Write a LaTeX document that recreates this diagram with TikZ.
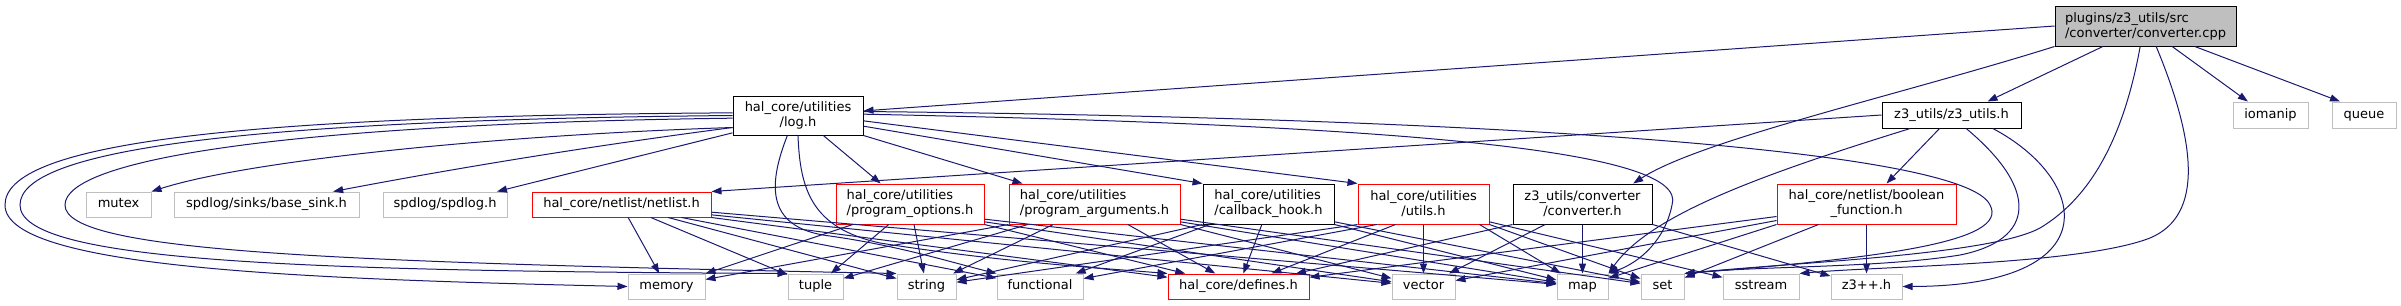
\documentclass[tikz,border=0pt]{standalone}
\usepackage{fontspec}
\setmainfont{DejaVu Sans}
\usetikzlibrary{arrows.meta}
\definecolor{edgeblue}{HTML}{191970}
\definecolor{docred}{HTML}{FF0000}
\definecolor{sysgrey}{HTML}{BFBFBF}
\begin{document}
\begin{tikzpicture}[
    x=0.75pt, y=-0.75pt,
    font=\fontsize{9.75}{11.25}\selectfont,
    % Cajas de los ficheros
    box/.style={rectangle, line width=0.75pt, inner sep=0pt},
    single/.style={minimum height=18.75pt, text height=7.4pt, text depth=2.3pt},
    double/.style={minimum height=30pt},
    sysh/.style={box, single, draw=sysgrey},
    redh/.style={box, draw=docred},
    blkh/.style={box, draw=black},
    % Las dependencias llevan flecha
    edge/.style={draw=edgeblue, line width=0.75pt, -{Triangle[length=7.5pt, width=5.3pt]}}
]
\useasboundingbox (0,0) rectangle (2401,305);

% --- Fichero raiz ---
\node[blkh, double, fill=sysgrey, minimum width=135.75pt, align=left] (root) at (2145.5,26) {plugins/z3\_utils/src\\/converter/converter.cpp};

% --- Segunda fila ---
\node[blkh, double, minimum width=97.5pt, minimum height=29.25pt, align=center] (logh) at (798,115.5) {hal\_core/utilities\\/log.h};
\node[blkh, single, minimum width=104.25pt, minimum height=19.5pt] (zthree) at (1951.5,115) {z3\_utils/z3\_utils.h};
\node[sysh, minimum width=56.25pt, minimum height=19.5pt] (iomaniph) at (2270.5,115) {iomanip};
\node[sysh, minimum width=48pt, minimum height=19.5pt] (queueh) at (2364,115) {queue};

% --- Tercera fila ---
\node[sysh, minimum width=48.75pt] (mutexh) at (118.5,204.5) {mutex};
\node[sysh, minimum width=138.75pt] (basesink) at (266.5,204.5) {spdlog/sinks/base\_sink.h};
\node[sysh, minimum width=93pt] (spdlogh) at (445,204.5) {spdlog/spdlog.h};
\node[redh, single, minimum width=134.25pt] (netlist) at (621.5,204.5) {hal\_core/netlist/netlist.h};
\node[redh, double, minimum width=111pt, align=left] (progopt) at (910,204) {hal\_core/utilities\\/program\_options.h};
\node[redh, double, minimum width=128.25pt, align=left] (progarg) at (1094.5,204) {hal\_core/utilities\\/program\_arguments.h};
\node[blkh, double, minimum width=98.25pt, align=left] (cbhook) at (1268.5,204) {hal\_core/utilities\\/callback\_hook.h};
\node[redh, double, minimum width=98.25pt, align=center] (utilsh) at (1423.5,204) {hal\_core/utilities\\/utils.h};
\node[blkh, double, minimum width=104.25pt, align=center] (convh) at (1582.5,204) {z3\_utils/converter\\/converter.h};
\node[redh, double, minimum width=134.25pt, align=center] (boolfn) at (1866.5,204) {hal\_core/netlist/boolean\\\_function.h};

% --- Cabeceras de la fila inferior ---
\node[sysh, minimum width=57.75pt] (memoryh) at (666.5,286.5) {memory};
\node[sysh, minimum width=41.25pt] (tupleh) at (815.5,286.5) {tuple};
\node[sysh, minimum width=44.25pt] (stringh) at (926.5,286.5) {string};
\node[sysh, minimum width=64.5pt] (functionalh) at (1040,286.5) {functional};
\node[redh, single, minimum width=105.75pt] (defines) at (1238.5,286.5) {hal\_core/defines.h};
\node[sysh, minimum width=47.25pt] (vectorh) at (1423.5,286.5) {vector};
\node[sysh, minimum width=38.25pt] (maph) at (1582.5,286.5) {map};
\node[sysh, minimum width=32.25pt] (seth) at (1662.5,286.5) {set};
\node[sysh, minimum width=57pt] (sstreamh) at (1761,286.5) {sstream};
\node[sysh, minimum width=53.25pt] (zpph) at (1866.5,286.5) {z3++.h};

% --- Desde converter.cpp ---
\draw[edge] (root.west) -- (logh);
\draw[edge] (root.south west) .. controls (1900,95) and (1700,140) .. ([xshift=38pt]convh.north);
\draw[edge] ([xshift=-32pt]root.south) -- ([xshift=27pt]zthree.north);
\draw[edge] ([xshift=20pt]root.south) -- ([xshift=-17pt]iomaniph.north);
\draw[edge] ([xshift=37pt]root.south) -- ([xshift=-18pt]queueh.north);
\draw[edge] ([xshift=-4pt]root.south) .. controls (2125,130) and (2095,195) .. (2040,228) .. controls (1990,255) and (1800,262) .. (seth.north east);
\draw[edge] ([xshift=8pt]root.south) .. controls (2195,140) and (2205,215) .. (2150,238) .. controls (2080,265) and (1880,266) .. (sstreamh.north east);

% --- Desde z3_utils.h ---
\draw[edge] (zthree.west) -- (netlist.north east);
\draw[edge] ([xshift=-31pt]zthree.south) .. controls (1760,175) and (1650,215) .. (maph.north east);
\draw[edge] ([xshift=-9pt]zthree.south) -- ([xshift=15pt]boolfn.north);
\draw[edge] ([xshift=11pt]zthree.south) .. controls (2040,190) and (2035,240) .. (1960,255) .. controls (1880,268) and (1760,266) .. (seth.north east);
\draw[edge] ([xshift=31pt]zthree.south) .. controls (2090,180) and (2110,286) .. (zpph.east);

% --- Desde log.h ---
\draw[edge] ([yshift=-9pt]logh.west) .. controls (500,135) and (250,160) .. (mutexh.north east);
\draw[edge] ([yshift=-9pt]logh.west) .. controls (560,150) and (420,175) .. ([xshift=50pt]basesink.north);
\draw[edge] ([yshift=-13pt]logh.west) -- ([xshift=39pt]spdlogh.north);
\draw[edge] ([yshift=2pt]logh.west) .. controls (220,116) and (5,145) .. (5,205) .. controls (5,268) and (300,279) .. (memoryh.west);
\draw[edge] ([yshift=0pt]logh.west) .. controls (240,120) and (20,150) .. (20,205) .. controls (20,262) and (300,271) .. (tupleh.north west);
\draw[edge] ([yshift=-2pt]logh.west) .. controls (280,124) and (65,160) .. (65,205) .. controls (65,252) and (330,262) .. (stringh.north west);
\draw[edge] ([xshift=19pt]logh.south) -- ([xshift=-22pt]progopt.north);
\draw[edge] (logh.south east) -- ([xshift=-54pt]progarg.north);
\draw[edge] ([yshift=-8pt]logh.east) -- (cbhook.north west);
\draw[edge] ([yshift=-4pt]logh.east) -- (utilsh.north west);
\draw[edge] ([yshift=1pt]logh.east) .. controls (1400,125) and (1690,150) .. (1672,205) .. controls (1665,240) and (1640,262) .. (maph.north east);
\draw[edge] ([yshift=3pt]logh.east) .. controls (1500,118) and (1965,150) .. (1990,205) .. controls (2010,242) and (1880,258) .. (seth.north east);
\draw[edge] ([xshift=-8pt]logh.south) .. controls (770,180) and (762,228) .. (830,236) .. controls (900,246) and (950,262) .. (functionalh.north west);
\draw[edge] (logh.south) .. controls (800,190) and (812,228) .. (880,243) .. controls (1000,262) and (1100,268) .. (defines.north west);

% --- Desde netlist.h ---
\draw[edge] ([xshift=5pt]netlist.south) -- (memoryh);
\draw[edge] ([xshift=22pt]netlist.south) -- (tupleh);
\draw[edge] ([xshift=35pt]netlist.south) -- (stringh);
\draw[edge] ([xshift=45pt]netlist.south) -- (functionalh);
\draw[edge] (netlist.south east) -- (defines);
\draw[edge] ([yshift=2pt]netlist.south east) -- (vectorh);
\draw[edge] ([yshift=4pt]netlist.south east) -- (maph);

% --- Desde program_options.h ---
\draw[edge] ([xshift=-43pt]progopt.south) -- (memoryh);
\draw[edge] ([xshift=-16pt]progopt.south) -- (tupleh);
\draw[edge] ([xshift=3pt]progopt.south) -- (stringh);
\draw[edge] (progopt.south east) -- (defines);
\draw[edge] ([yshift=2pt]progopt.south east) -- (vectorh);
\draw[edge] ([yshift=4pt]progopt.south east) -- (maph);

% --- Desde program_arguments.h ---
\draw[edge] (progarg.south west) -- (memoryh);
\draw[edge] ([xshift=-50pt]progarg.south) -- (tupleh);
\draw[edge] ([xshift=-31pt]progarg.south) -- (stringh);
\draw[edge] ([xshift=25pt]progarg.south) -- (defines);
\draw[edge] (progarg.south east) -- (vectorh);
\draw[edge] ([yshift=2pt]progarg.south east) -- (maph);
\draw[edge] ([yshift=4pt]progarg.south east) -- (seth);

% --- Desde callback_hook.h ---
\draw[edge] (cbhook.south west) -- (stringh);
\draw[edge] ([xshift=-44pt]cbhook.south) -- (functionalh);
\draw[edge] ([xshift=-5pt]cbhook.south) -- (defines);
\draw[edge] (cbhook.south east) -- (maph);
\draw[edge] ([yshift=2pt]cbhook.south east) -- (seth);

% --- Desde utils.h ---
\draw[edge] (utilsh.south west) -- (stringh);
\draw[edge] ([xshift=-35pt]utilsh.south) -- (functionalh);
\draw[edge] ([xshift=-21pt]utilsh.south) -- (defines);
\draw[edge] (utilsh) -- (vectorh);
\draw[edge] ([xshift=42pt]utilsh.south) -- (maph);
\draw[edge] (utilsh.south east) -- (seth);
\draw[edge] ([yshift=2pt]utilsh.south east) -- (sstreamh);

% --- Desde converter.h ---
\draw[edge] (convh.south west) -- (defines);
\draw[edge] ([xshift=-28pt]convh.south) -- (vectorh);
\draw[edge] (convh) -- (maph);
\draw[edge] (convh.south east) -- (zpph);

% --- Desde boolean_function.h ---
\draw[edge] ([yshift=6pt]boolfn.south west) -- (defines);
\draw[edge] ([yshift=3pt]boolfn.south west) -- (vectorh);
\draw[edge] (boolfn.south west) -- (maph);
\draw[edge] ([xshift=-36pt]boolfn.south) -- (seth);
\draw[edge] (boolfn) -- (zpph);

\end{tikzpicture}
\end{document}
